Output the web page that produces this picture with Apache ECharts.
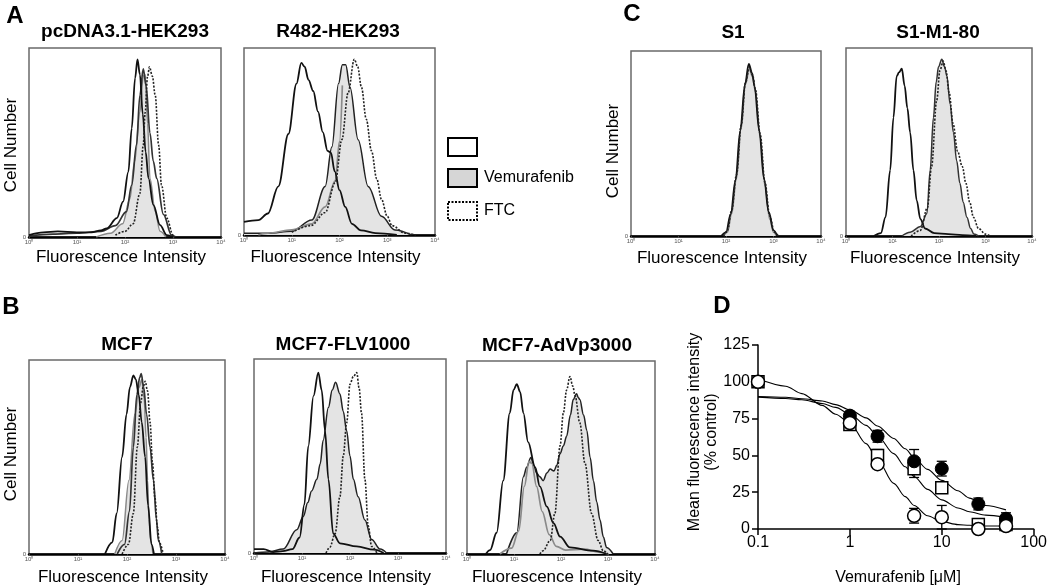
<!DOCTYPE html>
<html><head><meta charset="utf-8">
<script src="https://cdn.jsdelivr.net/npm/echarts@6/dist/echarts.min.js"></script>
<style>html,body{margin:0;padding:0;background:#fff}#c{width:1050px;height:588px}</style>
</head><body><div id="c"></div>
<script>
// ---------------- DATA ----------------
// Histograms: [log10 fluorescence intensity, cell count as % of plot height]
const histTickValues = [0, 1, 2, 3, 4];
const histTickLabels = ['10⁰', '10¹', '10²', '10³', '10⁴'];

const a1Control = [[0,1],[0.3,2.5],[0.6,3],[1.0,2.5],[1.3,2.5],[1.5,3.5],[1.62,4.6],[1.83,10],[1.96,18.7],[2.07,34.5],[2.14,57.5],[2.21,84],[2.26,94],[2.31,86],[2.37,65],[2.43,45],[2.49,31],[2.59,17],[2.73,6.3],[2.87,1],[3.0,0]];
const a1Extra   = [[0,0.5],[0.5,1.5],[1.0,2],[1.5,3],[1.8,6],[2.03,13.4],[2.14,27.5],[2.24,48.7],[2.31,75],[2.38,89],[2.44,80],[2.52,55],[2.59,40],[2.66,31],[2.8,12],[2.97,1],[3.05,0]];
const a1Vem     = [[1.4,0],[1.7,2],[1.95,7],[2.1,20],[2.2,40],[2.31,66],[2.38,85],[2.42,86],[2.47,60],[2.52,31],[2.63,13.4],[2.73,3],[2.85,0]];
const a1Ftc     = [[1.8,1],[2.0,3],[2.17,7],[2.31,23],[2.38,48.7],[2.42,66],[2.47,85],[2.51,90],[2.57,85],[2.63,75],[2.7,48.7],[2.76,27.5],[2.87,10],[3.0,1],[3.05,0]];

const a2Control = [[0,7],[0.3,8],[0.5,11.5],[0.72,26],[0.93,54],[1.1,81],[1.2,92],[1.27,90],[1.35,83],[1.45,77],[1.55,66],[1.65,55],[1.75,45],[1.82,44],[1.9,34],[2.0,24],[2.12,15],[2.26,6],[2.45,2.5],[2.75,1],[3.2,0]];
const a2Extra   = [[0.3,0],[0.5,1],[1.0,2.7],[1.42,6],[1.7,15],[1.91,29],[2.0,50],[2.06,80]];
const a2Vem     = [[0,1],[0.5,1],[1.0,2],[1.42,8],[1.7,26],[1.84,47],[1.98,81],[2.06,91],[2.13,91],[2.22,79],[2.39,51],[2.6,26],[2.88,10],[3.16,2.7],[3.51,0]];
const a2Ftc     = [[1.0,1.5],[1.4,5],[1.7,12],[1.91,28],[2.05,51],[2.18,76],[2.31,94],[2.38,90],[2.46,79],[2.56,62],[2.67,45],[2.78,30],[2.88,19],[3.0,10],[3.1,5],[3.37,1],[3.6,0]];

const c1Control = [[1.9,0],[2.0,2],[2.1,12],[2.2,30],[2.3,57],[2.4,82],[2.48,93],[2.55,88],[2.6,81],[2.7,57],[2.8,31],[2.9,13],[3.0,3],[3.08,0]];
const c1Vem     = [[1.95,0],[2.03,2],[2.12,12],[2.22,31],[2.32,58],[2.41,82],[2.49,90],[2.56,86],[2.62,78],[2.72,53],[2.82,27],[2.92,9],[3.0,2],[3.06,0]];
const c1Ftc     = [[1.95,0],[2.03,3],[2.12,14],[2.22,33],[2.32,60],[2.41,83],[2.49,91],[2.56,87],[2.62,79],[2.72,55],[2.82,29],[2.92,11],[3.02,2],[3.1,0]];

const c2Control = [[0.6,0],[0.75,1.5],[0.85,10],[0.95,35],[1.02,63],[1.09,85],[1.14,87],[1.2,89],[1.26,80],[1.32,68],[1.38,55],[1.45,35],[1.52,19],[1.6,9],[1.7,4],[1.9,1.5],[2.2,1],[2.5,0.5],[2.8,0]];
const c2Vem     = [[1.2,0],[1.38,2],[1.6,5],[1.74,12],[1.81,35],[1.88,63],[1.94,82],[1.99,90],[2.06,94],[2.12,90],[2.17,85],[2.24,70],[2.31,55],[2.38,40],[2.45,28],[2.52,18],[2.6,10],[2.68,4],[2.75,1],[2.85,0]];
const c2Ftc     = [[1.4,0],[1.6,3],[1.75,15],[1.84,37],[1.95,72],[2.02,88],[2.09,93],[2.15,88],[2.22,76],[2.3,60],[2.4,45],[2.5,37],[2.58,28],[2.66,18],[2.74,10],[2.85,4],[3.0,1],[3.1,0]];

const b1Control = [[1.55,0],[1.7,6],[1.79,21],[1.9,50],[1.99,72],[2.06,86],[2.13,92],[2.18,90],[2.24,82],[2.3,68],[2.37,50],[2.43,25],[2.5,5],[2.55,0]];
const b1Extra   = [[1.8,0],[1.95,5],[2.05,22],[2.13,55],[2.2,82],[2.26,91],[2.29,93],[2.34,86],[2.4,72],[2.47,55],[2.54,38],[2.6,18],[2.64,7],[2.71,0]];
const b1Vem     = [[1.75,0],[1.9,7],[2.04,38],[2.16,72],[2.25,86],[2.3,90],[2.35,80],[2.39,60],[2.42,38],[2.45,18],[2.48,7],[2.53,0]];
const b1Ftc     = [[1.9,0],[2.03,5],[2.13,21],[2.21,55],[2.28,78],[2.33,86],[2.37,89],[2.42,84],[2.47,68],[2.52,47],[2.57,29],[2.62,14],[2.66,6],[2.74,0]];

const b2Control = [[0,2],[0.2,2],[0.4,0.5],[0.6,1],[0.8,2],[0.95,8],[1.05,25],[1.13,55],[1.24,81],[1.34,93],[1.41,84],[1.48,63],[1.55,38],[1.65,10],[1.79,5],[2.14,3.4],[2.5,1.7],[2.7,0]];
const b2Vem     = [[0,0],[0.3,0.5],[0.61,2],[0.89,12],[1.03,19],[1.12,26],[1.2,32],[1.31,38],[1.38,46],[1.44,58],[1.55,75],[1.63,84],[1.7,88],[1.79,82],[1.86,73],[1.93,63],[2.0,50],[2.07,38],[2.17,29],[2.31,17],[2.45,7],[2.63,2],[2.76,0]];
const b2Ftc     = [[1.5,0],[1.58,3],[1.69,10],[1.79,29],[1.86,50],[1.93,67],[2.0,87],[2.07,91],[2.14,93],[2.19,85],[2.24,72],[2.31,38],[2.38,14],[2.45,3.4],[2.56,0]];

const b3Control = [[0.4,0],[0.49,2],[0.63,11],[0.77,38],[0.91,73],[0.99,85],[1.06,88],[1.13,84],[1.2,73],[1.3,58],[1.45,45],[1.55,35],[1.7,24.5],[1.84,16],[1.98,9],[2.19,3.4],[2.68,1.7],[2.97,0]];
const b3Extra   = [[0.7,0],[0.95,3],[1.1,12],[1.22,35],[1.32,48],[1.38,47],[1.48,35],[1.6,22],[1.75,10],[1.9,4],[2.1,2],[2.5,2.5],[2.8,1],[3.0,0]];
const b3Vem     = [[0.84,0],[1.06,11],[1.2,40],[1.27,45],[1.36,50],[1.42,46],[1.48,42],[1.55,40],[1.62,38],[1.7,42],[1.77,44],[1.85,43],[1.91,46],[1.98,52],[2.05,56],[2.12,61],[2.2,72],[2.26,80],[2.33,83],[2.37,81],[2.4,80],[2.48,72],[2.55,64],[2.62,50],[2.69,38],[2.76,27],[2.83,17.6],[2.9,9],[2.97,3.4],[3.11,0]];
const b3Ftc     = [[1.55,0],[1.62,1.7],[1.77,7],[1.87,21],[1.98,56],[2.05,73],[2.12,85],[2.19,92],[2.25,87],[2.3,82],[2.4,68],[2.51,47],[2.65,21],[2.79,7],[2.9,1.7],[3.0,0]];

// Panel D: dose response
const doseX      = [0.1, 1, 2, 5, 10, 25, 50];
const filledVals = [100, 77, 63, 46, 41, 17, 7];
const filledErr  = [0, 3, 4, 8, 5, 4, 4];
const squareVals = [100, 71, 50, 41, 28, 3, 3];
const squareErr  = [0, 3, 4, 6, 3, 1, 1];
const openVals   = [100, 72, 44, 9, 8, 0, 2];
const openErr    = [0, 2, 2, 5, 8, 1, 1];
const fitX       = [0.1,0.2,0.3,0.5,0.7,1,1.5,2,3,4,5,7,10,15,20,30,50];
const fitFilled  = [90,89.5,88.5,87,84.5,81,75.5,70,61.5,54.5,48.5,40.5,33,26,21,16,13];
const fitSquare  = [89.6,88.7,87.8,85.3,82.6,78.1,70.4,63.2,51.2,42.3,35.7,26.9,19.8,14.3,11.7,9.4,7.9];
const fitOpen    = [102,97,92,84,78,72,58,47,31,22,16,9,5,3,2.5,2,2];
const dYTicks    = [0, 25, 50, 75, 100, 125];

// ---------------- LAYOUT ----------------
const FONT = '"Liberation Sans", Arial, Helvetica, sans-serif';
const panels = [
  {title:'pcDNA3.1-HEK293', box:[29,48,192,189], control:a1Control, vem:a1Vem, ftc:a1Ftc, extra:a1Extra, vemLine:'#8a8a8a', extraColor:'#333', titleXY:[125,32], ylab:[11,145], xlabY:257},
  {title:'R482-HEK293', box:[244,48,191,187], control:a2Control, vem:a2Vem, ftc:a2Ftc, extra:a2Extra, vemLine:'#222', extraColor:'#8a8a8a', titleXY:[338,32], xlabY:257},
  {title:'S1', box:[631,51,190,185], control:c1Control, vem:c1Vem, ftc:c1Ftc, vemLine:'#8a8a8a', titleXY:[733,33], ylab:[613,151], xlabY:258},
  {title:'S1-M1-80', box:[846,48,186,188], control:c2Control, vem:c2Vem, ftc:c2Ftc, vemLine:'#333', titleXY:[938,33], xlabY:258},
  {title:'MCF7', box:[29,360,196,194], control:b1Control, vem:b1Vem, ftc:b1Ftc, extra:b1Extra, vemLine:'#8a8a8a', extraColor:'#333', titleXY:[127,345], ylab:[11,454], xlabY:577},
  {title:'MCF7-FLV1000', box:[254,359,192,194], control:b2Control, vem:b2Vem, ftc:b2Ftc, vemLine:'#222', titleXY:[343,345], xlabY:577},
  {title:'MCF7-AdVp3000', box:[467,361,188,193], control:b3Control, vem:b3Vem, ftc:b3Ftc, extra:b3Extra, vemLine:'#222', extraColor:'#8a8a8a', titleXY:[557,346], xlabY:577}
];

const grids = [], xAxes = [], yAxes = [], series = [], graphics = [];

function txt(x, y, text, size, opts) {
  opts = opts || {};
  graphics.push({
    type:'text', x:x, y:y, rotation: opts.rot || 0, z:100,
    style:{text:text, font:(opts.bold?'bold ':'') + size + 'px ' + FONT, fill:'#000',
      align: opts.align || 'center', verticalAlign:'middle'}
  });
}

panels.forEach((p, i) => {
  const [l, t, w, h] = p.box;
  grids.push({left:l, top:t, width:w, height:h, show:true, borderColor:'#6a6a6a', borderWidth:1.5, backgroundColor:'#fff'});
  xAxes.push({gridIndex:i, type:'value', min:0, max:4, interval:1,
    axisLine:{show:true, onZero:false, lineStyle:{color:'#000', width:2.5}},
    axisTick:{show:true, length:2, lineStyle:{color:'#555', width:0.8}},
    axisLabel:{show:true, margin:2, fontSize:6, color:'#555', fontFamily:FONT,
      formatter: v => histTickLabels[histTickValues.indexOf(v)] || ''},
    splitLine:{show:false}});
  yAxes.push({gridIndex:i, type:'value', min:0, max:100, interval:100,
    axisLine:{show:false}, axisTick:{show:false}, splitLine:{show:false},
    axisLabel:{show:true, margin:3, fontSize:6, color:'#555', fontFamily:FONT, formatter: v => v === 0 ? '0' : ''}});
  const base = {type:'line', xAxisIndex:i, yAxisIndex:i, showSymbol:false, symbol:'none', smooth:0.35, smoothMonotone:'x', silent:true, animation:false};
  series.push(Object.assign({}, base, {data:p.vem, lineStyle:{color:p.vemLine, width:1.5}, areaStyle:{color:'#e4e4e4', opacity:1}, z:2}));
  if (p.extra) series.push(Object.assign({}, base, {data:p.extra, lineStyle:{color:p.extraColor, width:1.7}, z:3}));
  series.push(Object.assign({}, base, {data:p.control, lineStyle:{color:'#111', width:1.8}, z:4}));
  series.push(Object.assign({}, base, {data:p.ftc, lineStyle:{color:'#222', width:1.6, type:[2,1.5]}, z:5}));
  txt(p.titleXY[0], p.titleXY[1], p.title, 19, {bold:true});
  txt(l + w / 2 - 4, p.xlabY, 'Fluorescence Intensity', 17);
  if (p.ylab) txt(p.ylab[0], p.ylab[1], 'Cell Number', 17, {rot:Math.PI / 2});
});

// Panel D
const di = panels.length;
grids.push({left:758, top:345, width:276, height:184});
xAxes.push({gridIndex:di, type:'log', logBase:10, min:0.1, max:100,
  axisLine:{show:true, onZero:false, lineStyle:{color:'#000', width:1.5}},
  axisTick:{show:true, length:6, lineStyle:{color:'#000', width:1.5}},
  minorTick:{show:false}, splitLine:{show:false},
  axisLabel:{margin:6, fontSize:16, color:'#000', fontFamily:FONT, formatter: v => v < 1 ? '0.1' : String(Math.round(v))}});
yAxes.push({gridIndex:di, type:'value', min:0, max:125, interval:25,
  axisLine:{show:true, onZero:false, lineStyle:{color:'#000', width:1.5}},
  axisTick:{show:true, length:6, lineStyle:{color:'#000', width:1.5}},
  splitLine:{show:false},
  axisLabel:{margin:8, fontSize:16, color:'#000', fontFamily:FONT, formatter: v => dYTicks.indexOf(v) >= 0 ? String(v) : ''}});

[fitFilled, fitSquare, fitOpen].forEach(arr => {
  series.push({type:'line', xAxisIndex:di, yAxisIndex:di, data: fitX.map((x, k) => [x, arr[k]]),
    showSymbol:false, symbol:'none', smooth:0.3, smoothMonotone:'x', silent:true, animation:false,
    lineStyle:{color:'#000', width:1.1}, z:2});
});

function errSeries(vals, errs) {
  return {type:'custom', xAxisIndex:di, yAxisIndex:di, silent:true, animation:false, z:3,
    data: doseX.map((x, k) => [x, vals[k], errs[k]]),
    renderItem: (params, api) => {
      const x = api.value(0), y = api.value(1), e = api.value(2);
      if (!e) return null;
      const top = api.coord([x, y + e]);
      const bot = api.coord([x, Math.max(0, y - e)]);
      const cw = 5, st = {stroke:'#000', lineWidth:1.3};
      return {type:'group', children:[
        {type:'line', shape:{x1:top[0], y1:top[1], x2:bot[0], y2:bot[1]}, style:st},
        {type:'line', shape:{x1:top[0]-cw, y1:top[1], x2:top[0]+cw, y2:top[1]}, style:st},
        {type:'line', shape:{x1:bot[0]-cw, y1:bot[1], x2:bot[0]+cw, y2:bot[1]}, style:st}
      ]};
    }};
}
series.push(errSeries(squareVals, squareErr));
series.push(errSeries(filledVals, filledErr));
series.push(errSeries(openVals, openErr));

series.push({type:'scatter', xAxisIndex:di, yAxisIndex:di, data: doseX.map((x, k) => [x, squareVals[k]]),
  symbol:'rect', symbolSize:12, itemStyle:{color:'#fff', borderColor:'#000', borderWidth:1.5, opacity:1}, z:5, silent:true, animation:false});
series.push({type:'scatter', xAxisIndex:di, yAxisIndex:di, data: doseX.map((x, k) => [x, filledVals[k]]),
  symbol:'circle', symbolSize:13, itemStyle:{color:'#000', borderColor:'#000', borderWidth:1, opacity:1}, z:6, silent:true, animation:false});
series.push({type:'scatter', xAxisIndex:di, yAxisIndex:di, data: doseX.map((x, k) => [x, openVals[k]]),
  symbol:'circle', symbolSize:13, itemStyle:{color:'#fff', borderColor:'#000', borderWidth:1.5, opacity:1}, z:7, silent:true, animation:false});

txt(695, 432, 'Mean fluorescence intensity', 16, {rot:Math.PI / 2});
txt(712, 432, '(% control)', 16, {rot:Math.PI / 2});
txt(898, 578, 'Vemurafenib [\u03bcM]', 16);

// Panel letters
txt(15, 16, 'A', 24, {bold:true});
txt(11, 307, 'B', 24, {bold:true});
txt(632, 14, 'C', 24, {bold:true});
txt(722, 306, 'D', 24, {bold:true});

// Legend
graphics.push({type:'rect', shape:{x:448, y:138, width:29, height:18}, style:{fill:'#fff', stroke:'#000', lineWidth:2}, z:100});
graphics.push({type:'rect', shape:{x:448, y:169, width:29, height:18}, style:{fill:'#d6d6d6', stroke:'#000', lineWidth:2}, z:100});
graphics.push({type:'rect', shape:{x:448, y:202, width:29, height:18}, style:{fill:'#fff', stroke:'#000', lineWidth:2, lineDash:[2,1.5]}, z:100});
txt(484, 178, 'Vemurafenib', 16, {align:'left'});
txt(484, 211, 'FTC', 16, {align:'left'});

const chart = echarts.init(document.getElementById('c'), null, {renderer:'canvas'});
chart.setOption({animation:false, backgroundColor:'#fff', grid:grids, xAxis:xAxes, yAxis:yAxes, series:series, graphic:graphics});
</script></body></html>
